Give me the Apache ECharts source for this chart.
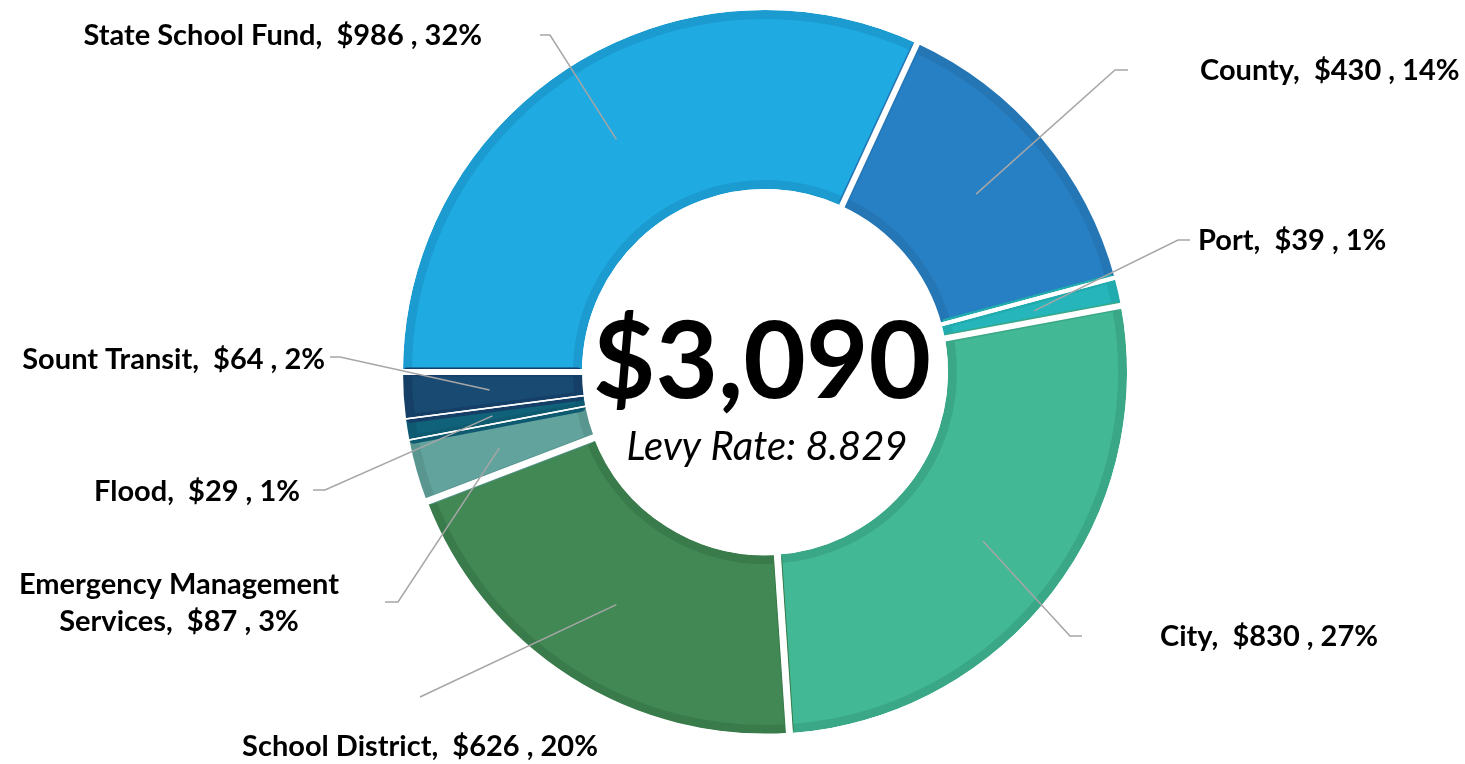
<!DOCTYPE html>
<html>
<head>
<meta charset="utf-8">
<title>Levy breakdown</title>
<script src="https://cdn.jsdelivr.net/npm/echarts@6/dist/echarts.min.js"></script>
<style>
  html, body { margin: 0; padding: 0; background: #fff; }
  #chart { width: 1465px; height: 764px; }
</style>
</head>
<body>
<div id="chart"></div>
<script>
// data
const categories = [
  'State School Fund',
  'County',
  'Port',
  'City',
  'School District',
  'Emergency Management\nServices',
  'Flood',
  'Sount Transit'
]
const amounts = [986, 430, 39, 830, 626, 87, 29, 64]
const totalLevy = 3090
const levyRate = '8.829'

// styles (kept apart from the data)
const fillColors = ['#1FAAE2', '#2880C4', '#25B5BA', '#42B994', '#418855', '#62A39E', '#10627A', '#184A72']
const edgeColors = ['#1B9BD0', '#2476B5', '#21ABAF', '#3AA886', '#397B4B', '#59968F', '#0E5A70', '#153F66']
const gapWidths = [6, 4, 4, 6, 7, 1.5, 1.5, 1.5]
const FONT = 'Lato, "Open Sans", sans-serif'
const CENTER = [765, 372]

// where each label sits: [elbowX, elbowY, endX, textX, textY, align]
const labelSpots = [
  [550, 35, 540, 482, 36, 'right'],
  [1115, 70, 1128, 1200, 71, 'left'],
  [1178, 240, 1190, 1198, 241, 'left'],
  [1070, 636, 1082, 1160, 637, 'left'],
  [420, 697, 420, 420, 747, 'center'],
  [398, 602, 385, 179, 603, 'center'],
  [325, 490, 313, 300, 492, 'right'],
  [340, 357, 330, 325, 360, 'right']
]

const chart = echarts.init(document.getElementById('chart'))

const ringData = categories.map((name, i) => ({
  name,
  value: amounts[i],
  itemStyle: { color: fillColors[i], borderColor: edgeColors[i], borderWidth: 9 }
}))
const gapData = categories.map((name, i) => ({
  name,
  value: amounts[i],
  itemStyle: { color: 'rgba(0,0,0,0)', borderColor: '#fff', borderWidth: gapWidths[i] }
}))
const labelData = categories.map((name, i) => ({ name, value: amounts[i] }))

chart.setOption({
  backgroundColor: '#fff',
  animation: false,
  graphic: [
    {
      type: 'text',
      x: 762,
      y: 363,
      style: {
        text: '$' + totalLevy.toLocaleString('en-US'),
        font: 'bold 108px ' + FONT,
        fill: '#000',
        align: 'center',
        verticalAlign: 'middle'
      }
    },
    {
      type: 'text',
      x: 767,
      y: 447,
      style: {
        text: 'Levy Rate: ' + levyRate,
        font: 'italic 40px ' + FONT,
        fill: '#000',
        align: 'center',
        verticalAlign: 'middle'
      }
    }
  ],
  series: [
    {
      type: 'pie',
      z: 1,
      center: CENTER,
      radius: [187.5, 357.5],
      startAngle: 180,
      silent: true,
      label: { show: false },
      labelLine: { show: false },
      emphasis: { disabled: true },
      data: ringData
    },
    {
      type: 'pie',
      z: 2,
      center: CENTER,
      radius: [180, 365],
      startAngle: 180,
      silent: true,
      label: { show: false },
      labelLine: { show: false },
      emphasis: { disabled: true },
      data: gapData
    },
    {
      type: 'pie',
      z: 5,
      center: CENTER,
      radius: [0, 276],
      startAngle: 180,
      silent: true,
      percentPrecision: 0,
      emphasis: { disabled: true },
      itemStyle: { color: 'rgba(0,0,0,0)' },
      label: {
        show: true,
        position: 'outside',
        color: '#000',
        fontFamily: FONT,
        fontWeight: 'bold',
        fontSize: 29,
        lineHeight: 37,
        overflow: 'none',
        bleedMargin: 0,
        formatter: (p) => p.name + ',  $' + p.value + ' , ' + p.percent + '%'
      },
      labelLine: {
        show: true,
        length: 20,
        length2: 10,
        lineStyle: { color: '#A6A6A6', width: 1.5 }
      },
      labelLayout: (params) => {
        const s = labelSpots[params.dataIndex]
        const pts = params.labelLinePoints
        const out = { x: s[3], y: s[4], align: s[5], verticalAlign: 'middle' }
        if (pts && pts.length) {
          out.labelLinePoints = [pts[0], [s[0], s[1]], [s[2], s[1]]]
        }
        return out
      },
      data: labelData
    }
  ]
})
</script>
</body>
</html>
